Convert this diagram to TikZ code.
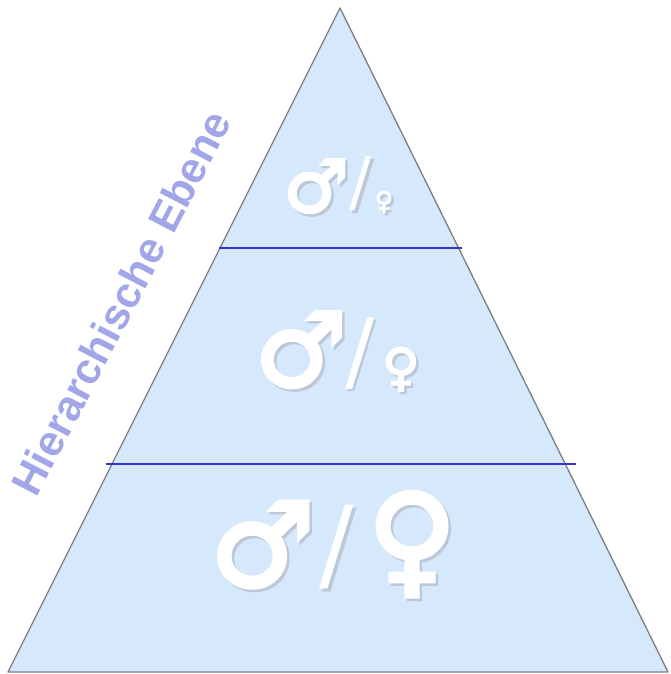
\documentclass[tikz,border=0pt]{standalone}
\usepackage{fontspec}
\setmainfont{Liberation Sans}
\newfontfamily\symfont{DejaVu Sans}
\newfontfamily\symheavy[FakeBold=3.5]{DejaVu Sans}
\usepackage{tikz}
\usetikzlibrary{positioning}

\definecolor{pyrfill}{RGB}{213,232,252}
\definecolor{pyredge}{RGB}{125,125,130}
\definecolor{levelline}{RGB}{51,51,204}
\definecolor{axistext}{RGB}{160,166,232}
\definecolor{symshadow}{RGB}{188,200,216}

% white glyph with a soft drop shadow
\newcommand{\shadowglyph}[1]{\makebox[0pt][l]{\hspace{2.5pt}\raisebox{-2.5pt}{\color{symshadow}#1}}#1}

\begin{document}
\begin{tikzpicture}[x=1pt, y=1pt,
    sym/.style={text=white, inner sep=0pt, anchor=center},
    level/.style={draw=levelline, line width=1.3pt},
    axis/.style={text=axistext, font=\bfseries\fontsize{43}{43}\selectfont, rotate=62.5}
]
\useasboundingbox (0,0) rectangle (670,674);

% pyramid
\coordinate (top) at (340,666);
\coordinate (bl) at (8,2);
\coordinate (br) at (668,2);
\filldraw[fill=pyrfill, draw=pyredge, line width=1.3pt, line join=round] (bl) -- (top) -- (br) -- cycle;

% level separators
\coordinate (l1a) at (219,426);
\coordinate (l1b) at (462,426);
\coordinate (l2a) at (106,210);
\coordinate (l2b) at (576,210);
\draw[level] (l1a) -- (l1b);
\draw[level] (l2a) -- (l2b);

% top level
\node[sym, font=\symheavy\fontsize{73}{73}\selectfont] (m1) at (316,486.5) {\shadowglyph{♂}};
\node[sym, font=\symfont\fontsize{66}{66}\selectfont] (d1) at (361,489) {\shadowglyph{/}};
\node[sym, font=\symheavy\fontsize{25}{25}\selectfont] (f1) at (384,471) {\shadowglyph{♀}};

% middle level
\node[sym, font=\symheavy\fontsize{103}{103}\selectfont] (m2) at (301,323) {\shadowglyph{♂}};
\node[sym, font=\symfont\fontsize{87}{87}\selectfont] (d2) at (360,319) {\shadowglyph{/}};
\node[sym, font=\symheavy\fontsize{51}{51}\selectfont] (f2) at (401,303.5) {\shadowglyph{♀}};

% bottom level
\node[sym, font=\symheavy\fontsize{117}{117}\selectfont] (m3) at (262.5,128) {\shadowglyph{♂}};
\node[sym, font=\symfont\fontsize{102}{102}\selectfont] (d3) at (337,125.5) {\shadowglyph{/}};
\node[sym, font=\symheavy\fontsize{122}{122}\selectfont] (f3) at (412,128.5) {\shadowglyph{♀}};

% axis label
\node[axis] (ebene) at (121,371) {Hierarchische Ebene};
\end{tikzpicture}
\end{document}
